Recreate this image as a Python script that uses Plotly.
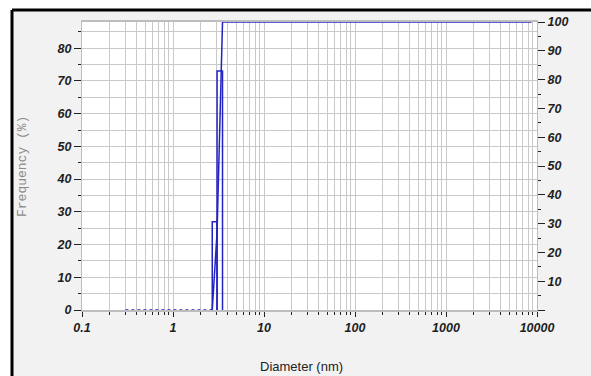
import numpy as np
import plotly.graph_objects as go

# ---- data ----
bin_edges = [2.7, 3.05, 3.5]          # nm, histogram bin edges
freq = [27, 73]                        # % per bin
zero_x = [0.3, 2.7]                    # dotted zero-frequency range
cum_end = 8700                         # where the cumulative curve stops
x_major = [0.1, 1, 10, 100, 1000, 10000]
x_labels = ["0.1", "1", "10", "100", "1000", "10000"]
y_left_ticks = [0, 10, 20, 30, 40, 50, 60, 70, 80]
y_right_ticks = [0, 10, 20, 30, 40, 50, 60, 70, 80, 90, 100]

blue = "#2323c4"
grid = "#c9c9c9"
tickfont = dict(family="Liberation Sans", size=12.5, color="#1e1e1e", weight="bold", style="italic")

fig = go.Figure()

# zero frequency dotted
fig.add_trace(go.Scatter(x=zero_x, y=[0, 0], mode="lines", cliponaxis=False,
                         line=dict(color=blue, width=1.5, dash="dot"), showlegend=False))
# histogram outline
for i, h in enumerate(freq):
    l, r = bin_edges[i], bin_edges[i + 1]
    fig.add_trace(go.Scatter(x=[l, l, r, r], y=[0, h, h, 0], mode="lines",
                             line=dict(color=blue, width=1.5), showlegend=False))
# cumulative curve
cum = np.concatenate([[0], np.cumsum(freq)])
cx = list(bin_edges) + [cum_end]
cy = list(cum) + [cum[-1]]
fig.add_trace(go.Scatter(x=cx, y=cy, yaxis="y2", mode="lines", cliponaxis=False,
                         line=dict(color=blue, width=1.5), showlegend=False))

x_minor = [m * d for d in [0.1, 1, 10, 100, 1000] for m in range(2, 10)]

fig.update_layout(
    width=591, height=376,
    margin=dict(l=82, r=54, t=22, b=66),
    paper_bgcolor="#f2f2f2", plot_bgcolor="white",
    xaxis=dict(type="log", range=[-1, 4], tickmode="array", tickvals=x_major, ticktext=x_labels,
               ticks="outside", ticklen=5, tickcolor="#222", tickfont=tickfont,
               showgrid=True, gridcolor=grid, gridwidth=1,
               minor=dict(tickmode="array", tickvals=x_minor, ticks="outside", ticklen=3,
                          tickcolor="#222", showgrid=True, gridcolor=grid, gridwidth=1),
               showline=True, linecolor="#bdbdbd", linewidth=1.5, mirror=True, zeroline=False),
    yaxis=dict(range=[0, 88], tickmode="array", tickvals=y_left_ticks,
               ticks="outside", ticklen=7, tickcolor="#222", tickfont=tickfont,
               showgrid=True, gridcolor=grid, gridwidth=1,
               minor=dict(dtick=5, tick0=0, ticks="outside", ticklen=3, tickcolor="#222",
                          showgrid=True, gridcolor=grid, gridwidth=1),
               showline=True, linecolor="#bdbdbd", linewidth=1, mirror=True, zeroline=False),
    yaxis2=dict(range=[0, 100], overlaying="y", side="right", tickmode="array",
                tickvals=y_right_ticks, ticktext=[("" if v == 0 else str(v)) for v in y_right_ticks],
                ticks="outside", ticklen=7, tickcolor="#222", tickfont=tickfont,
                showgrid=False, zeroline=False,
                minor=dict(dtick=5, tick0=0, ticks="outside", ticklen=3, tickcolor="#222", showgrid=False)),
    annotations=[
        dict(text="Frequency (%)", xref="paper", yref="paper", x=(22 - 82) / 455, y=(310 - 167) / 288,
             textangle=-90, showarrow=False, xanchor="center", yanchor="middle",
             font=dict(family="Liberation Mono", size=13, color="#8a8a8a")),
        dict(text="Diameter (nm)", xref="paper", yref="paper", x=(301 - 82) / 455, y=(310 - 366) / 288,
             showarrow=False, xanchor="center", yanchor="middle",
             font=dict(family="Liberation Sans", size=13, color="#222")),
    ],
    shapes=[
        dict(type="rect", xref="paper", yref="paper", x0=-82 / 455, x1=(591 - 82) / 455,
             y0=(310 - 0) / 288, y1=(310 - 10) / 288, fillcolor="white", line=dict(width=0)),
        dict(type="rect", xref="paper", yref="paper", x0=-82 / 455, x1=(11 - 82) / 455,
             y0=(310 - 376) / 288, y1=310 / 288, fillcolor="white", line=dict(width=0)),
        dict(type="line", xref="paper", yref="paper", x0=(12 - 82) / 455, x1=(12 - 82) / 455,
             y0=(310 - 376) / 288, y1=(310 - 10) / 288, line=dict(color="black", width=3)),
        dict(type="line", xref="paper", yref="paper", x0=(12 - 82) / 455, x1=(591 - 82) / 455,
             y0=(310 - 10) / 288, y1=(310 - 10) / 288, line=dict(color="black", width=3)),
    ],
)

fig.write_html("out.html")
